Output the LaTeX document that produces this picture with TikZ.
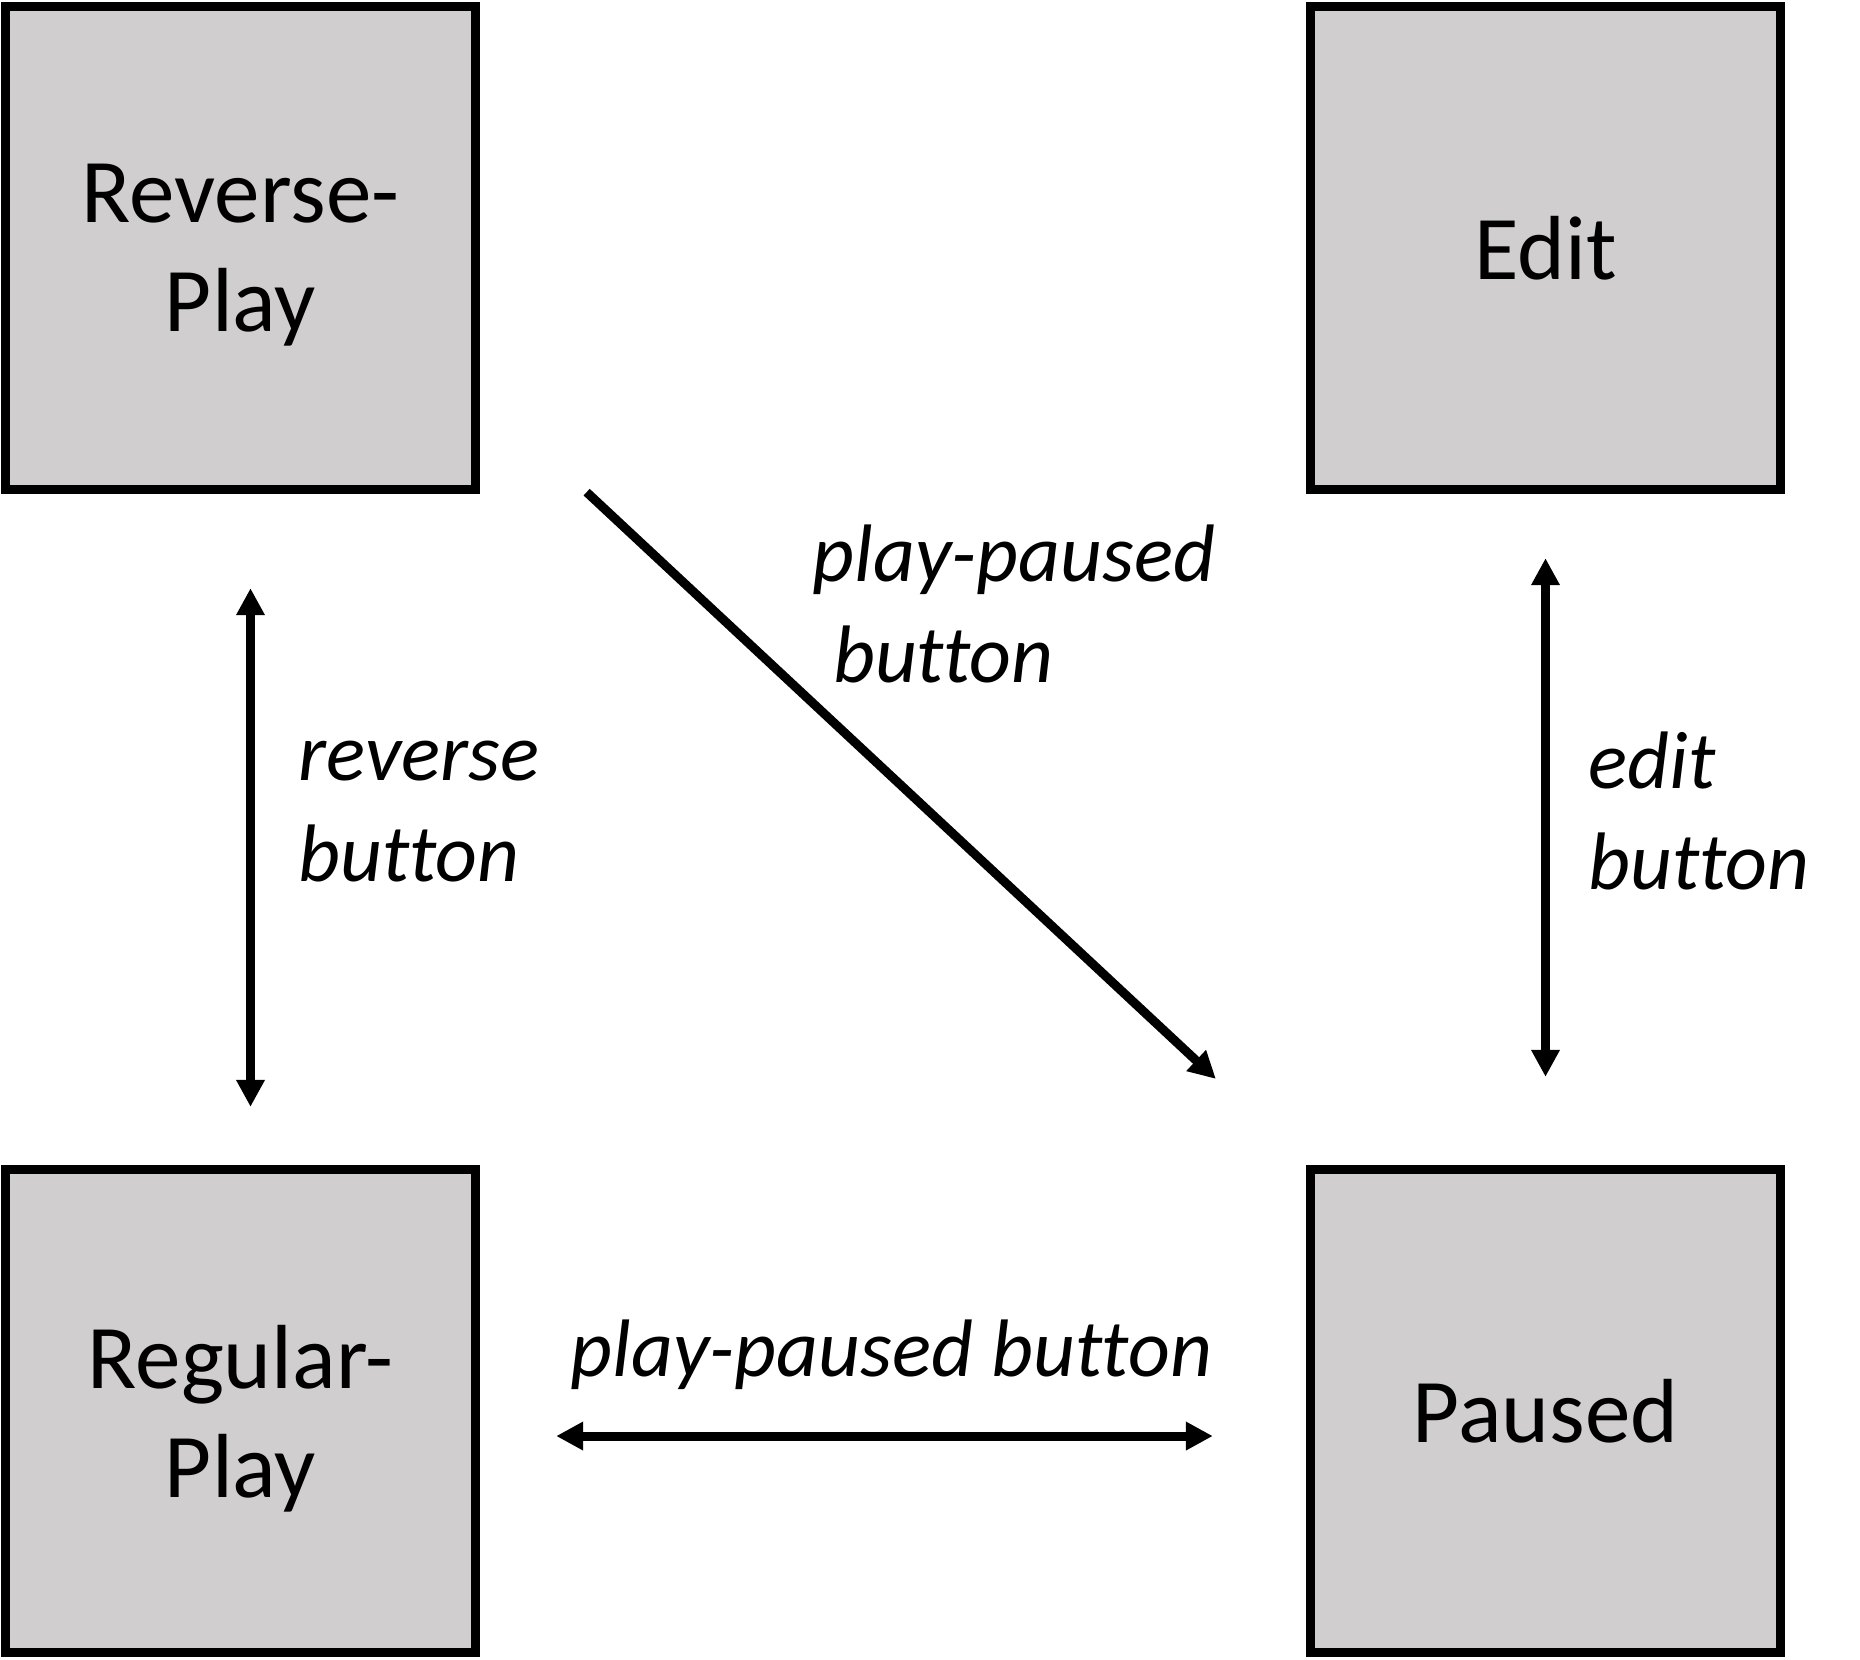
\documentclass[tikz,border=0pt]{standalone}
\usepackage{fontspec}
\setmainfont{Carlito}[Ligatures=NoCommon]
\usetikzlibrary{arrows.meta}
\definecolor{stategray}{RGB}{208,206,207}
\begin{document}
\begin{tikzpicture}[x=0.01cm, y=-0.01cm,
  >={Triangle[length=0.27cm, width=0.27cm]},
  state/.style={draw, fill=stategray, line width=0.09cm, inner sep=0pt, outer sep=0pt,
    minimum width=4.7cm, minimum height=4.83cm, align=center, text depth=0pt,
    font=\fontsize{0.91cm}{1.09cm}\selectfont},
  trans/.style={line width=0.09cm},
  lbl/.style={inner sep=0pt, align=left, anchor=base west,
    font=\fontsize{0.815cm}{1.0cm}\selectfont\itshape}]
%
\useasboundingbox (0,0) rectangle (1860,1659);
%
\node[state] (rev) at (240.5,248) {Reverse-\\Play};
\node[state] (edit) at (1545.5,248) {Edit};
\node[state] (reg) at (240.5,1411) {Regular-\\Play};
\node[state] (paused) at (1545.5,1411) {Paused};
%
\draw[trans, <->, shorten <=0.985cm, shorten >=0.625cm]
  ([xshift=0.1cm]rev.south) -- ([xshift=0.1cm]reg.north);
\draw[trans, <->, shorten <=0.685cm, shorten >=0.925cm]
  (edit.south) -- (paused.north);
\draw[trans, <->, shorten <=0.805cm, shorten >=0.975cm]
  ([yshift=-0.25cm]reg.east) -- ([yshift=-0.25cm]paused.west);
\draw[trans, ->]
  ([shift={(111,2.5)}]rev.south east) -- ([shift={(-94.5,-90.5)}]paused.north west);
%
% base anchor sits on the last line
\node[lbl] (revlbl) at (298,881) {reverse\\button};
\node[lbl] (editlbl) at (1588,889) {edit\\button};
\node[lbl] (diaglbl) at (812,682) {play-paused\\\hspace*{0.25em}button};
\node[lbl] (horlbl) at (570,1376) {play-paused button};
%
\end{tikzpicture}
\end{document}
